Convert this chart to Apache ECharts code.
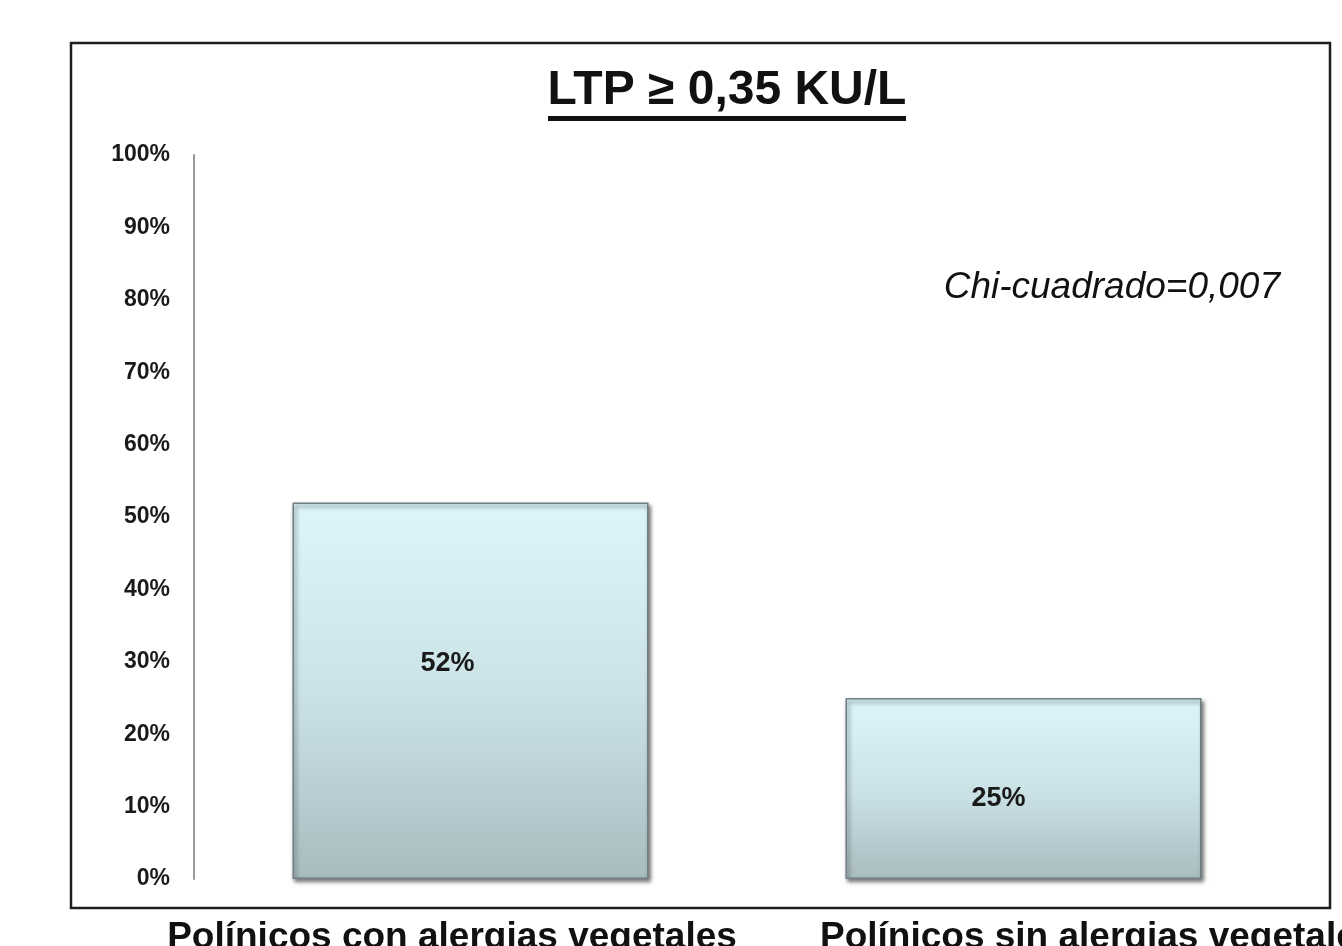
<!DOCTYPE html>
<html>
<head>
<meta charset="utf-8">
<title>LTP</title>
<script src="https://cdn.jsdelivr.net/npm/echarts@6/dist/echarts.min.js"></script>
<style>
	html, body { margin: 0; padding: 0; background: #fff; }
	#chart { width: 1342px; height: 946px; }
</style>
</head>
<body>
<div id="chart"></div>
<script>
// chart data
var categories = ['Polínicos con alergias vegetales', 'Polínicos sin alergias vegetales'];
var values = [52, 25];
var yTicks = [0, 10, 20, 30, 40, 50, 60, 70, 80, 90, 100];
var titleText = 'LTP ≥ 0,35 KU/L';
var noteText = 'Chi-cuadrado=0,007';

var myChart = echarts.init(document.getElementById('chart'));

// bar fill, light cyan at top to grey-blue at bottom
var barFill = new echarts.graphic.LinearGradient(0, 0, 0, 1, [
	{ offset: 0, color: '#ddf6fa' },
	{ offset: 0.5, color: '#cbe3e7' },
	{ offset: 1, color: '#a9bcc0' }
]);

// label offsets inside the bars
var labelOffsets = [[-23, -27], [-25, 10]];

var option = {
	animation: false,
	grid: {
		left: 194,
		right: 42,
		top: 155,
		bottom: 67,
		containLabel: false
	},
	xAxis: {
		type: 'category',
		data: categories,
		axisLine: { show: false },
		axisTick: { show: false },
		axisLabel: { show: false }
	},
	yAxis: {
		type: 'value',
		min: yTicks[0],
		max: yTicks[yTicks.length - 1],
		interval: 10,
		axisLine: { show: true, lineStyle: { color: '#9a9a9a', width: 2 } },
		axisTick: { show: false },
		splitLine: { show: false },
		axisLabel: {
			margin: 24,
			color: '#1a1a1a',
			fontFamily: 'Liberation Sans, Arial, sans-serif',
			fontWeight: 'bold',
			fontSize: 23,
			formatter: '{value}%'
		}
	},
	series: [{
		type: 'bar',
		barWidth: 356,
		data: values.map(function(v, i) {
			return {
				value: v,
				label: { offset: labelOffsets[i] }
			};
		}),
		itemStyle: {
			color: barFill,
			borderColor: '#6f7f83',
			borderWidth: 1.5,
			shadowColor: 'rgba(0,0,0,0.55)',
			shadowBlur: 4,
			shadowOffsetX: 2,
			shadowOffsetY: 3
		},
		label: {
			show: true,
			position: 'inside',
			color: '#1a1a1a',
			fontFamily: 'Liberation Sans, Arial, sans-serif',
			fontWeight: 'bold',
			fontSize: 27,
			formatter: '{c}%'
		}
	}],
	graphic: [
		// outer frame
		{
			type: 'rect',
			shape: { x: 71, y: 43, width: 1259, height: 865 },
			style: { fill: null, stroke: '#1e1e1e', lineWidth: 2.5 },
			z: 0
		},
		// title with underline
		{
			type: 'text',
			x: 727,
			y: 91,
			style: {
				text: titleText,
				fill: '#111',
				font: 'bold 48px "Liberation Sans", Arial, sans-serif',
				textAlign: 'center',
				textVerticalAlign: 'middle'
			}
		},
		{
			type: 'line',
			shape: { x1: 548, y1: 118.5, x2: 906, y2: 118.5 },
			style: { stroke: '#111', lineWidth: 5 }
		},
		// statistic note
		{
			type: 'text',
			x: 1280,
			y: 288,
			style: {
				text: noteText,
				fill: '#111',
				font: 'italic 37px "Liberation Sans", Arial, sans-serif',
				textAlign: 'right',
				textVerticalAlign: 'middle'
			}
		},
		// category labels below the frame
		{
			type: 'text',
			x: 452,
			y: 938,
			style: {
				text: categories[0],
				fill: '#111',
				font: 'bold 37px "Liberation Sans", Arial, sans-serif',
				textAlign: 'center',
				textVerticalAlign: 'middle'
			}
		},
		{
			type: 'text',
			x: 820,
			y: 938,
			style: {
				text: categories[1],
				fill: '#111',
				font: 'bold 37px "Liberation Sans", Arial, sans-serif',
				textAlign: 'left',
				textVerticalAlign: 'middle'
			}
		}
	]
};
myChart.setOption(option);
</script>
</body>
</html>
